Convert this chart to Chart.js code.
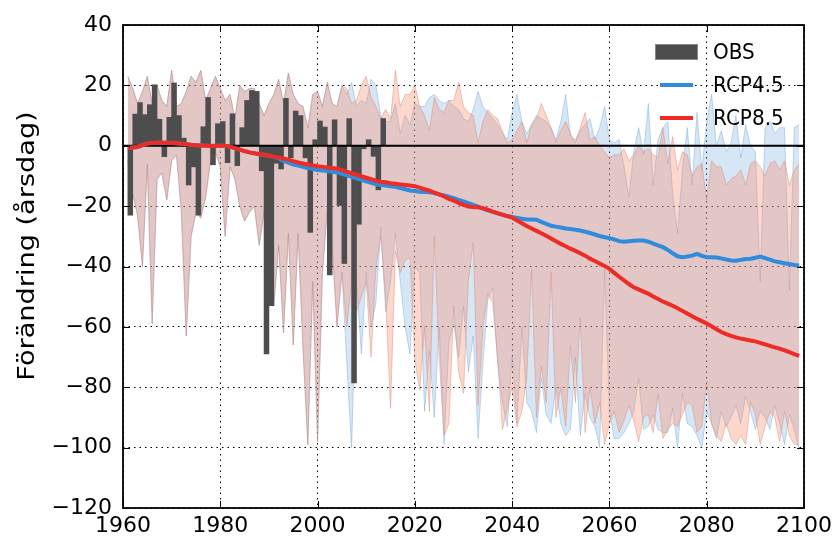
<!DOCTYPE html>
<html>
<head>
<meta charset="utf-8">
<script src="https://cdn.jsdelivr.net/npm/chart.js@4.4.1/dist/chart.umd.min.js"></script>
<style>
  html, body { margin: 0; padding: 0; background: #fff; }
</style>
</head>
<body>
<canvas id="chart" width="838" height="541"></canvas>
<script>
// observed change per year, 1961-2013
const obsStart = 1961;
const obsValues = [
  -23, 10.5, 14.3, 10.3, 13.6, 20.2, 8.8, -3.6, 9.4, 20.8,
  10, 2.5, -13, -7, -23, 6.3, 16, -6.3, 7.3, 8,
  -5.6, 10.6, -6.6, 6, 15, 18.3, 18, -8.3, -69, -53,
  -5.8, -7.7, 15.7, -4, 11.5, 10, -4, -28.7, 2, 8.2,
  6.2, -42.8, 8.6, -19.8, -39, 9, -78.6, -26, -1, 2,
  -3.5, -14.6, 9
];

// model spread, historical part shared by both scenarios (1961-2005)
const histStart = 1961;
const histUpper = [
  23, 19, 14, 18, 23, 14, 20, 15, 13, 25,
  13, 14, 18, 23, 21, 25, 15, 19, 23, 19,
  15, 17, 9, 20, 18, 19, 19, 14, 10, 14,
  17, 22, 14, 24, 17, 14, 13, 6, 17, 18,
  13, 21, 14, 13, 20
];
const histLower = [
  -5, -16, -23, -40, -6, -59, -11, -9, -18, -5,
  -3, -22, -63, -30, -22, -24, -17, -5, -2, -7,
  -30, -7, -11, -20, -25, -22, -20, -33, -22, -30,
  -53, -33, -62, -29, -66, -29, -67, -99, -45, -98,
  -42, -21, -33, -60, -42
];

// scenario spread, 2006-2099
const futureStart = 2006;
const rcp45Upper = [
  17, 21, 13, 15, 14, 22, 20, 10, 8, 8,
  14, 4, 10, 7, 14, 13, 13, 16, 17, 15,
  14, 15, 13, 12, 9, 8, 12, 18, 13, 11,
  9, 7, 4, 2, 11, 17, 8, 4, 7, 10,
  9, 8, 6, 2, 8, 17, 3, 2, 5, 7,
  9, 2, 6, 13, 2, 1, 2, -7, -17, -2,
  6, -3, 14, -13, 2, 6, 8, -16, -29, -8,
  6, -13, 11, -8, 8, 17, 0, 5, -2, 1,
  10, -4, 7, 0, -2, -45, 6, 8, 4, 6,
  6, -48, 6, 7
];
const rcp45Lower = [
  -72, -100, -45, -69, -42, -60, -52, -27, -55, -45,
  -29, -45, -60, -69, -40, -42, -88, -68, -90, -60,
  -99, -65, -59, -70, -53, -75, -63, -97, -72, -51,
  -47, -72, -85, -93, -70, -92, -60, -85, -88, -95,
  -77, -89, -92, -80, -92, -96, -94, -70, -96, -82,
  -90, -93, -100, -41, -88, -97, -97, -95, -92, -88,
  -77, -94, -93, -89, -94, -95, -95, -87, -100, -82,
  -92, -93, -96, -100, -88, -92, -97, -88, -93, -90,
  -86, -92, -83, -88, -94, -88, -90, -94, -86, -92,
  -99, -89, -94, -101
];
const rcp85Upper = [
  19, 14, 15, 20, 23, 16, 13, 9, 12, 9,
  25, 13, 17, 17, 20, 13, 10, 5, 16, 12,
  11, 15, 15, 21, 13, 11, 10, 1, 8, 12,
  10, 9, 5, 1, 2, 5, 8, 1, 7, 9,
  14, 10, 6, 1, 5, 8, 4, 1, 6, 11,
  2, 3, 0, -2, -4, -3, -3, -1, -5, -3,
  0, -2, -1, -3, -4, 6, -6, 3, -8, -2,
  -3, -10, -7, -6, -18, -5, -7, -7, -13, -11,
  -10, -8, -13, -6, -5, -7, -10, -6, -5, -8,
  -5, -13, -8, -6
];
const rcp85Lower = [
  -60, -45, -55, -50, -45, -70, -40, -30, -50, -87,
  -35, -42, -38, -37, -71, -81, -60, -88, -30, -70,
  -96, -92, -53, -75, -82, -45, -32, -86, -60, -49,
  -52, -70, -94, -87, -80, -93, -88, -77, -41, -90,
  -73, -85, -42, -90, -80, -93, -66, -85, -57, -95,
  -80, -92, -85, -99, -92, -88, -95, -91, -86, -91,
  -98, -90, -89, -95, -82, -97, -94, -92, -93, -89,
  -85, -86, -95, -93, -78, -92, -96, -98, -92, -97,
  -99, -96, -99, -85, -89, -99, -93, -88, -90, -98,
  -88, -96, -99, -99
];

// ensemble mean, 1961-2099
const meanStart = 1961;
const rcp45Mean = [
  -0.7, -0.6, -0.4, 0.2, 0.7, 0.9, 1.0, 1.0, 1.0, 0.9,
  0.8, 0.7, 0.5, 0.3, 0.2, 0.1, 0, -0.1, 0, 0,
  0, -0.3, -0.8, -1.3, -1.8, -2.2, -2.5, -2.8, -3.0, -3.3,
  -3.7, -4.2, -5.0, -5.6, -6.2, -6.6, -7.0, -7.4, -7.7, -8.0,
  -8.2, -8.4, -8.6, -8.9, -9.3, -9.8, -10.3, -10.8, -11.3, -11.8,
  -12.3, -12.8, -13.0, -13.2, -13.4, -13.6, -14.0, -14.4, -14.8, -15.0,
  -15.2, -15.3, -15.4, -15.7, -16.1, -16.5, -16.9, -17.4, -17.9, -18.4,
  -19.0, -19.6, -20.2, -20.8, -21.4, -21.9, -22.4, -22.9, -23.3, -23.6,
  -23.9, -24.2, -24.4, -24.4, -24.5, -25.2, -25.9, -26.5, -26.8, -27.1,
  -27.4, -27.6, -27.8, -28.1, -28.5, -28.9, -29.4, -29.9, -30.3, -30.6,
  -31.0, -31.6, -31.8, -31.6, -31.5, -31.4, -31.4, -31.8, -32.4, -33.0,
  -33.6, -34.5, -35.6, -36.6, -36.9, -36.7, -36.4, -35.8, -36.5, -36.9,
  -36.9, -37.0, -37.3, -37.7, -38.0, -38.1, -37.8, -37.5, -37.4, -37.1,
  -36.7, -37.2, -37.7, -38.3, -38.6, -38.9, -39.2, -39.5, -39.7
];
const rcp85Mean = [
  -0.7, -0.6, -0.4, 0.2, 0.7, 0.9, 1.0, 1.0, 1.0, 0.9,
  0.8, 0.7, 0.5, 0.3, 0.2, 0.1, 0, -0.1, 0, 0,
  0, -0.3, -0.8, -1.3, -1.8, -2.2, -2.5, -2.8, -3.0, -3.3,
  -3.6, -3.9, -4.2, -4.6, -5.1, -5.5, -5.9, -6.2, -6.5, -6.8,
  -7.0, -7.2, -7.4, -7.6, -8.0, -8.6, -9.1, -9.6, -10.1, -10.6,
  -11.1, -11.6, -11.9, -12.1, -12.4, -12.6, -12.8, -13.0, -13.2, -13.4,
  -13.9, -14.4, -14.9, -15.5, -16.1, -16.8, -17.6, -18.2, -18.9, -19.6,
  -20.1, -20.3, -20.4, -20.7, -21.2, -21.8, -22.3, -22.8, -23.3, -23.8,
  -24.8, -25.7, -26.6, -27.4, -28.2, -29.0, -29.8, -30.7, -31.6, -32.5,
  -33.3, -34.1, -34.8, -35.6, -36.4, -37.4, -38.2, -39.0, -39.8, -40.8,
  -42.1, -43.4, -44.6, -45.8, -46.9, -47.6, -48.3, -49.0, -49.9, -50.8,
  -51.6, -52.3, -53.0, -53.8, -54.7, -55.6, -56.5, -57.3, -58.1, -58.9,
  -59.8, -60.8, -61.7, -62.4, -63.0, -63.5, -63.9, -64.2, -64.5, -64.8,
  -65.3, -65.8, -66.3, -66.8, -67.2, -67.8, -68.4, -69.0, -69.6
];

const xTicks = [1960, 2100];
const yTicks = [-120, 40];
const tickStep = 20;
const yTitle = "Förändring (årsdag)";
const legendOrder = ["OBS", "RCP4.5", "RCP8.5"];

const FONT = "DejaVu Sans";
const BLUE = "#2f8bdb";
const RED = "#ee2b24";
const OBS_GREY = "#4d4d4d";

function toPoints(values, start, shift = 0) {
  return values.map((y, i) => ({ x: start + i + shift, y }));
}

function minusLabel(v) {
  return v < 0 ? "\u2212" + Math.abs(v) : String(v);
}

const envelope = (hist, future) =>
  toPoints(hist, histStart).concat(toPoints(future, futureStart));

// zero line, frame with inward ticks, legend, rotated y title
const decorations = {
  id: "decorations",
  afterDatasetDraw(chart, args) {
    if (chart.data.datasets[args.index].label !== "OBS") return;
    const { ctx, chartArea } = chart;
    const y0 = chart.scales.y.getPixelForValue(0);
    ctx.save();
    ctx.strokeStyle = "#000";
    ctx.lineWidth = 2;
    ctx.beginPath();
    ctx.moveTo(chartArea.left, y0);
    ctx.lineTo(chartArea.right, y0);
    ctx.stroke();
    ctx.restore();
  },
  afterDatasetsDraw(chart) {
    const { ctx, chartArea: a, scales } = chart;
    ctx.save();
    ctx.strokeStyle = "#000";
    ctx.lineWidth = 1;
    const tl = 7;
    scales.x.ticks.forEach((t) => {
      const x = Math.round(scales.x.getPixelForValue(t.value)) + 0.5;
      ctx.beginPath();
      ctx.moveTo(x, a.bottom); ctx.lineTo(x, a.bottom - tl);
      ctx.moveTo(x, a.top); ctx.lineTo(x, a.top + tl);
      ctx.stroke();
    });
    scales.y.ticks.forEach((t) => {
      const y = Math.round(scales.y.getPixelForValue(t.value)) + 0.5;
      ctx.beginPath();
      ctx.moveTo(a.left, y); ctx.lineTo(a.left + tl, y);
      ctx.moveTo(a.right, y); ctx.lineTo(a.right - tl, y);
      ctx.stroke();
    });
    ctx.lineWidth = 1.8;
    ctx.strokeRect(a.left, a.top, a.right - a.left, a.bottom - a.top);
    ctx.restore();
  },
  afterDraw(chart) {
    const { ctx, chartArea: a } = chart;
    ctx.save();
    ctx.textBaseline = "middle";

    legendOrder.forEach((name, i) => {
      const ds = chart.data.datasets.find((d) => d.label === name);
      const y = a.top + 27 + i * 33;
      const sx = a.right - 149;
      if (ds.type === "bar") {
        ctx.fillStyle = ds.backgroundColor;
        ctx.fillRect(sx, y - 8, 43, 16);
        ctx.strokeStyle = "#888";
        ctx.lineWidth = 1;
        ctx.strokeRect(sx + 0.5, y - 7.5, 42, 15);
      } else {
        ctx.strokeStyle = ds.borderColor;
        ctx.lineWidth = 4;
        ctx.beginPath();
        ctx.moveTo(sx + 5, y);
        ctx.lineTo(sx + 38, y);
        ctx.stroke();
      }
      ctx.save();
      ctx.fillStyle = "#000";
      ctx.textAlign = "left";
      ctx.font = `20px "${FONT}"`;
      ctx.translate(a.right - 91, y + 1);
      ctx.scale(1, 1.1);
      ctx.fillText(name, 0, 0);
      ctx.restore();
    });

    // y title, stretched along its length as in the source image
    ctx.fillStyle = "#000";
    ctx.font = `23px "${FONT}"`;
    ctx.translate(28, 246);
    ctx.rotate(-Math.PI / 2);
    ctx.scale(1.18, 1);
    ctx.textAlign = "center";
    ctx.fillText(yTitle, 0, 0);
    ctx.restore();
  },
};

const lineBase = { type: "line", pointRadius: 0, tension: 0 };

new Chart(document.getElementById("chart"), {
  type: "line",
  data: {
    datasets: [
      {
        ...lineBase,
        label: "RCP8.5",
        data: toPoints(rcp85Mean, meanStart),
        borderColor: RED,
        borderWidth: 4,
        fill: false,
        order: 0,
      },
      {
        ...lineBase,
        label: "RCP4.5",
        data: toPoints(rcp45Mean, meanStart),
        borderColor: BLUE,
        borderWidth: 4,
        fill: false,
        order: 1,
      },
      {
        type: "bar",
        label: "OBS",
        data: toPoints(obsValues, obsStart, 0.5),
        backgroundColor: OBS_GREY,
        borderWidth: 0,
        barThickness: "flex",
        barPercentage: 1,
        categoryPercentage: 1,
        order: 2,
      },
      {
        ...lineBase,
        label: "RCP8.5 max",
        data: envelope(histUpper, rcp85Upper),
        borderColor: "rgba(215,135,115,0.45)",
        borderWidth: 1,
        backgroundColor: "rgba(245,140,110,0.35)",
        fill: "+1",
        order: 3,
      },
      {
        ...lineBase,
        label: "RCP8.5 min",
        data: envelope(histLower, rcp85Lower),
        borderColor: "rgba(215,135,115,0.45)",
        borderWidth: 1,
        fill: false,
        order: 4,
      },
      {
        ...lineBase,
        label: "RCP4.5 max",
        data: envelope(histUpper, rcp45Upper),
        borderColor: "rgba(90,150,205,0.35)",
        borderWidth: 1,
        backgroundColor: "rgba(90,155,215,0.25)",
        fill: "+1",
        order: 5,
      },
      {
        ...lineBase,
        label: "RCP4.5 min",
        data: envelope(histLower, rcp45Lower),
        borderColor: "rgba(90,150,205,0.35)",
        borderWidth: 1,
        fill: false,
        order: 6,
      },
    ],
  },
  options: {
    responsive: false,
    animation: false,
    devicePixelRatio: 1,
    events: [],
    layout: { padding: { top: 25, right: 34, bottom: 0, left: 0 } },
    plugins: { legend: { display: false }, tooltip: { enabled: false } },
    scales: {
      x: {
        type: "linear",
        min: xTicks[0],
        max: xTicks[1],
        offset: false,
        afterFit: (s) => { s.height = 33; },
        grid: { color: "#000", lineWidth: 1, drawTicks: false, offset: false },
        border: { display: false, dash: [1.5, 4] },
        ticks: {
          stepSize: tickStep,
          autoSkip: false,
          maxRotation: 0,
          padding: 5,
          color: "#000",
          font: { family: FONT, size: 22 },
          callback: (v) => String(v),
        },
      },
      y: {
        min: yTicks[0],
        max: yTicks[1],
        afterFit: (s) => { s.width = 123; },
        grid: { color: "#000", lineWidth: 1, drawTicks: false },
        border: { display: false, dash: [1.5, 4] },
        ticks: {
          stepSize: tickStep,
          padding: 11,
          color: "#000",
          font: { family: FONT, size: 22 },
          callback: minusLabel,
        },
      },
    },
  },
  plugins: [decorations],
});
</script>
</body>
</html>
